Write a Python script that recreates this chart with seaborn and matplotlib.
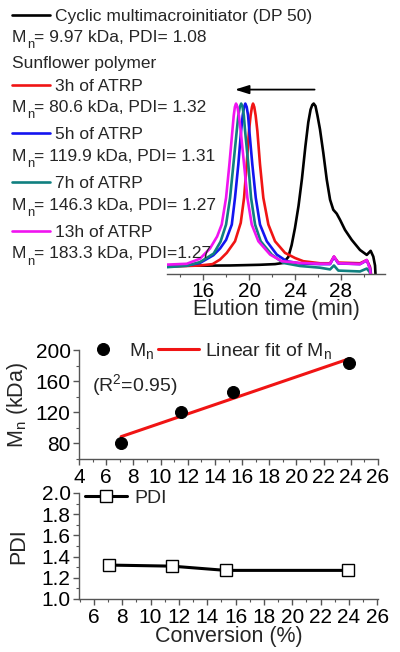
import numpy as np
import matplotlib
matplotlib.use("Agg")
import matplotlib.pyplot as plt
from matplotlib.lines import Line2D
from matplotlib.ticker import MultipleLocator, FormatStrFormatter
import seaborn as sns

# ---------------- data ----------------
# GPC traces: elution time (min) and normalized RI signal
black_t = [12.83, 15.71, 18.33, 20.9, 22.25, 22.97, 23.41, 23.7, 23.99, 24.3, 24.6, 24.9, 25.15, 25.35, 25.5,
           25.62, 25.78, 25.95, 26.17, 26.46, 26.76, 27.05, 27.33, 27.63, 27.92, 28.35, 28.94, 29.66, 30.25,
           30.59, 30.82, 30.97, 31.01]
black_i = [0.050, 0.049, 0.050, 0.054, 0.058, 0.065, 0.100, 0.170, 0.270, 0.400, 0.560, 0.750, 0.890, 0.965, 0.992,
           1.000, 0.985, 0.930, 0.849, 0.711, 0.554, 0.436, 0.377, 0.354, 0.318, 0.259, 0.200, 0.141, 0.112,
           0.136, 0.102, 0.050, 0.0]

red_t = [12.81, 14.55, 15.71, 16.80, 17.46, 18.04, 18.76, 19.26, 19.55, 19.78, 19.98, 20.12, 20.24, 20.33, 20.44,
         20.56, 20.71, 20.94, 21.23, 21.67, 22.25, 23.12, 23.99, 24.72, 26.17, 27.05, 27.39, 27.77, 29.66, 30.25,
         30.53, 30.62]
red_i = [0.043, 0.047, 0.050, 0.058, 0.085, 0.124, 0.192, 0.300, 0.447, 0.643, 0.839, 0.930, 0.980, 1.000, 0.980,
         0.930, 0.839, 0.643, 0.447, 0.290, 0.192, 0.124, 0.094, 0.075, 0.063, 0.063, 0.102, 0.067, 0.063, 0.082,
         0.043, 0.0]

blue_t = [12.81, 14.55, 15.71, 16.87, 17.46, 17.98, 18.48, 18.76, 19.05, 19.29, 19.43, 19.55, 19.66, 19.78, 19.90,
          20.01, 20.27, 20.57, 20.94, 21.53, 22.40, 23.27, 24.43, 26.17, 27.05, 27.39, 27.77, 29.66, 30.25, 30.53,
          30.60]
blue_i = [0.045, 0.050, 0.065, 0.110, 0.150, 0.200, 0.290, 0.447, 0.643, 0.839, 0.930, 0.980, 1.000, 0.980, 0.930,
          0.839, 0.643, 0.447, 0.290, 0.192, 0.114, 0.075, 0.062, 0.058, 0.058, 0.100, 0.062, 0.058, 0.080, 0.035,
          0.0]

teal_t = [12.81, 14.55, 15.71, 16.90, 17.50, 17.98, 18.33, 18.62, 18.91, 19.05, 19.18, 19.30, 19.42, 19.53, 19.64,
          19.92, 20.16, 20.51, 21.00, 21.96, 22.97, 24.43, 26.17, 27.05, 27.39, 27.77, 29.66, 30.25, 30.50, 30.55]
teal_i = [0.040, 0.048, 0.070, 0.120, 0.190, 0.290, 0.447, 0.643, 0.839, 0.930, 0.980, 1.000, 0.980, 0.930, 0.839,
          0.643, 0.447, 0.290, 0.192, 0.114, 0.065, 0.047, 0.037, 0.027, 0.050, 0.020, 0.015, 0.032, 0.012, 0.0]

magenta_t = [12.81, 14.55, 15.71, 16.58, 17.20, 17.60, 17.98, 18.27, 18.53, 18.65, 18.75, 18.85, 18.97, 19.10, 19.26,
             19.55, 19.84, 20.22, 20.80, 21.82, 22.84, 24.43, 26.17, 27.05, 27.39, 27.77, 29.66, 30.25, 30.53, 30.58]
magenta_i = [0.055, 0.060, 0.090, 0.150, 0.220, 0.290, 0.447, 0.643, 0.839, 0.930, 0.980, 1.000, 0.980, 0.930, 0.839,
             0.643, 0.447, 0.290, 0.192, 0.114, 0.075, 0.065, 0.060, 0.060, 0.103, 0.063, 0.058, 0.082, 0.030, 0.0]

trace_labels = ["Cyclic multimacroinitiator (DP 50)", "3h of ATRP", "5h of ATRP", "7h of ATRP", "13h of ATRP"]
trace_info = ["= 9.97 kDa, PDI= 1.08",
              "= 80.6 kDa, PDI= 1.32",
              "= 119.9 kDa, PDI= 1.31",
              "= 146.3 kDa, PDI= 1.27",
              "= 183.3 kDa, PDI=1.27"]
group_label = "Sunflower polymer"
trace_colors = ["#000000", "#f01414", "#1414f0", "#108080", "#f014f0"]

# kinetics
conversion = [7.1, 11.5, 15.3, 23.9]
mn_kda = [80.6, 119.9, 146.3, 183.3]
pdi = [1.32, 1.31, 1.27, 1.27]
r2_text = "(R$^\\mathregular{2}$=0.95)"

# ---------------- style ----------------
sns.set_theme(style="ticks")
plt.rcParams["font.family"] = ["Liberation Sans", "DejaVu Sans"]
plt.rcParams["mathtext.default"] = "regular"
AX_COL = "#555555"
TICK_FS = 15
LAB_FS = 15.5

W, H = 400, 652
fig = plt.figure(figsize=(W / 100, H / 100), dpi=100)
renderer = fig.canvas.get_renderer()


def fx(px):
    return px / W


def fy(py):
    return 1 - py / H


def style_axis(ax, pad_x=2.5, pad_y=2):
    for s in ["top", "right"]:
        ax.spines[s].set_visible(False)
    for s in ["left", "bottom"]:
        ax.spines[s].set_color(AX_COL)
        ax.spines[s].set_linewidth(1.0)
    ax.tick_params(which="major", direction="out", length=4, width=1.0, color=AX_COL,
                   labelsize=TICK_FS, labelcolor="black")
    ax.tick_params(which="minor", direction="out", length=2, width=0.8, color=AX_COL)
    ax.tick_params(axis="x", which="major", pad=pad_x)
    ax.tick_params(axis="y", which="major", pad=pad_y)
    ax.grid(False)


def mn_text(x_px, base_px, rest, fs):
    """'M' + lowered subscript 'n' + rest, laid out in figure pixels."""
    t1 = fig.text(fx(x_px), fy(base_px), "M", fontsize=fs, va="baseline", ha="left")
    w1 = t1.get_window_extent(renderer).width
    t2 = fig.text(fx(x_px + w1 + 0.3), fy(base_px + 6.5), "n", fontsize=fs * 0.75, va="baseline", ha="left")
    w2 = t2.get_window_extent(renderer).width
    fig.text(fx(x_px + w1 + w2 + 0.8), fy(base_px), rest, fontsize=fs, va="baseline", ha="left")


# ---------------- top: GPC traces ----------------
ax1 = fig.add_axes([fx(167), fy(274), fx(385) - fx(167), fy(78) - fy(274)])
traces = [(black_t, black_i), (red_t, red_i), (blue_t, blue_i), (teal_t, teal_i), (magenta_t, magenta_i)]
for (t, i), c in zip(traces, trace_colors):
    sns.lineplot(x=t, y=i, ax=ax1, color=c, lw=1.9, sort=False, estimator=None)
ax1.set_xlim(12.83, 31.84)
ax1.set_ylim(0, 1.15)
style_axis(ax1, pad_x=1.5)
ax1.spines["left"].set_visible(False)
ax1.set_yticks([])
ax1.xaxis.set_major_locator(MultipleLocator(4))
ax1.xaxis.set_minor_locator(MultipleLocator(2))
ax1.set_xlabel("Elution time (min)", fontsize=LAB_FS, labelpad=-1)
ax1.set_ylabel("")

# arrow from the initiator peak to the last polymer peak
x_start = black_t[int(np.argmax(black_i))] + 0.08
x_end = magenta_t[int(np.argmax(magenta_i))] - 0.1
ax1.annotate("", xy=(x_end, 1.082), xytext=(x_start, 1.082),
             arrowprops=dict(arrowstyle="-|>,head_length=0.7,head_width=0.22", color="black", lw=1.3,
                             shrinkA=0, shrinkB=0))

# legend-like text block
LEG_FS = 12.5
rows_handle = [20.7, 90.7, 139.3, 187.7, 236.7]
rows_info = [41.7, 111.7, 160.7, 210.0, 258.3]
for k in range(5):
    yb = rows_handle[k]
    fig.add_artist(Line2D([fx(12), fx(50)], [fy(yb - 6)] * 2, transform=fig.transFigure,
                          color=trace_colors[k], lw=1.9))
    fig.text(fx(55), fy(yb), trace_labels[k], fontsize=LEG_FS, va="baseline", ha="left")
    mn_text(12, rows_info[k], trace_info[k], LEG_FS)
fig.text(fx(12), fy(68.3), group_label, fontsize=LEG_FS, va="baseline", ha="left")

# ---------------- middle: Mn vs conversion ----------------
ax2 = fig.add_axes([fx(79), fy(459), fx(378) - fx(79), fy(350) - fy(459)])
sns.scatterplot(x=conversion, y=mn_kda, ax=ax2, color="black", s=75, edgecolor="black",
                label="M$_\\mathregular{n}$", zorder=3)
sns.regplot(x=conversion, y=mn_kda, ax=ax2, scatter=False, ci=None, color="#f01414",
            line_kws=dict(lw=2.2), label="Linear fit of M$_\\mathregular{n}$")
ax2.set_xlim(4, 26)
ax2.set_ylim(60, 200)
style_axis(ax2)
ax2.xaxis.set_major_locator(MultipleLocator(2))
ax2.xaxis.set_minor_locator(MultipleLocator(1))
ax2.set_yticks([80, 120, 160, 200])
ax2.yaxis.set_minor_locator(MultipleLocator(20))
ax2.set_xlabel("")
ax2.set_ylabel("M$_\\mathregular{n}$ (kDa)", fontsize=LAB_FS)
ax2.yaxis.set_label_coords(-0.165, 0.5)
ax2.text(4.95, 155, r2_text, fontsize=14, va="center", ha="left")
ax2.legend(loc="center left", bbox_to_anchor=(0.012, 0.99), ncol=2, frameon=False, fontsize=14,
           handlelength=2.1, handletextpad=0.3, columnspacing=0.2, borderpad=0, borderaxespad=0,
           scatteryoffsets=[0.5])

# ---------------- bottom: PDI vs conversion ----------------
ax3 = fig.add_axes([fx(79), fy(599), fx(378) - fx(79), fy(493) - fy(599)])
sns.lineplot(x=conversion, y=pdi, ax=ax3, color="black", lw=2.2, marker="s", markersize=8,
             markerfacecolor="white", markeredgecolor="black", markeredgewidth=1.0, label="PDI")
ax3.set_xlim(4.95, 26.05)
ax3.set_ylim(1.0, 2.0)
style_axis(ax3)
ax3.set_xticks(np.arange(6, 27, 2))
ax3.xaxis.set_minor_locator(MultipleLocator(1))
ax3.yaxis.set_major_locator(MultipleLocator(0.2))
ax3.yaxis.set_minor_locator(MultipleLocator(0.1))
ax3.yaxis.set_major_formatter(FormatStrFormatter("%.1f"))
ax3.set_xlabel("Conversion (%)", fontsize=LAB_FS, labelpad=-1)
ax3.set_ylabel("PDI", fontsize=LAB_FS)
ax3.yaxis.set_label_coords(-0.165, 0.5)
ax3.legend(loc="center left", bbox_to_anchor=(0.02, 0.953), frameon=False, fontsize=14,
           handlelength=2.16, handletextpad=0.36, borderpad=0, borderaxespad=0)

fig.savefig("out.png", dpi=100)
